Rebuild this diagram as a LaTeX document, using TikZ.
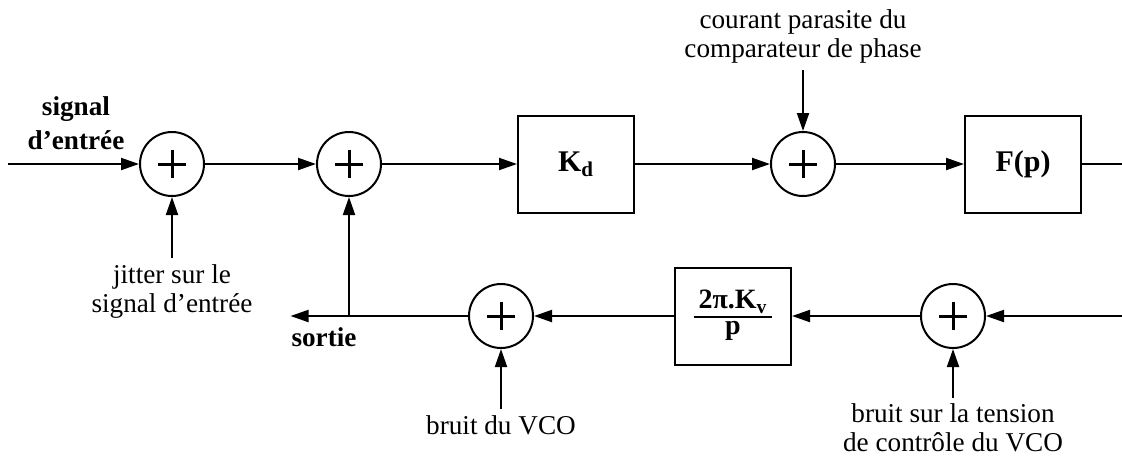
\documentclass[tikz,border=0pt]{standalone}
\usepackage{fontspec}
\setmainfont{Liberation Serif}
\usetikzlibrary{arrows.meta, positioning}

\newcommand{\vcogain}{{\fontsize{14pt}{15pt}\selectfont
  \setlength{\arrayrulewidth}{1pt}\renewcommand{\arraystretch}{0.8}%
  \begin{tabular}{@{\hspace{2.5pt}}c@{\hspace{2.5pt}}}2π.K\textsubscript{v}\\\hline p\end{tabular}}}

\begin{document}
\fontsize{13.6pt}{14.5pt}\selectfont
\begin{tikzpicture}[
  >={Triangle[length=9pt,width=6pt]},
  line width=1pt,
  sum/.style={circle, draw, minimum size=32pt, inner sep=0pt,
    path picture={\draw[line width=1.5pt]
      ([xshift=-7pt]path picture bounding box.center) -- ([xshift=7pt]path picture bounding box.center)
      ([yshift=-7pt]path picture bounding box.center) -- ([yshift=7pt]path picture bounding box.center);}},
  block/.style={draw, minimum width=58pt, minimum height=48.5pt, inner sep=0pt,
    font=\fontsize{15pt}{16pt}\selectfont\bfseries},
  lbl/.style={align=center, inner sep=3pt},
  lblb/.style={lbl, font=\bfseries}
]
\useasboundingbox (0,0) rectangle (561pt,-228.5pt);

% forward path
\node[sum] (sum1) at (86pt,-82pt) {};
\node[sum] (sum2) [right=55.5pt of sum1] {};
\node[block] (kd) [right=67.5pt of sum2] {K\textsubscript{d}};
\node[sum] (sum3) [right=67.5pt of kd] {};
\node[block] (fp) [right=64pt of sum3] {F(p)};
\coordinate (in) at (4pt,-82pt);
\coordinate[right=26pt of fp] (fpout);

% return path
\node[sum] (sum5) at (476.5pt,-158pt) {};
\node[block] (kv) [left=64pt of sum5] {\vcogain};
\node[sum] (sum4) [left=70pt of kv] {};
\coordinate[right=68.5pt of sum5] (vin);
\coordinate (fb) at (sum2 |- sum4);
\coordinate[left=29.25pt of fb] (out);

% labels
\node[lblb, anchor=south] (sigin) at (38pt,-78.5pt) {signal\\[2.5pt]d’entrée};
\node[lblb, below right=5.5pt and 0pt of out, inner sep=0pt] (outlbl) {sortie};
\node[lbl, below=30.5pt of sum1] (jitter) {jitter sur le\\signal d’entrée};
\node[lbl, above=30.5pt of sum3] (cpnoise) {courant parasite du\\comparateur de phase};
\node[lbl, below=30pt of sum4] (vconoise) {bruit du VCO};
\node[lbl, below=24.5pt of sum5, inner sep=2.5pt] (ctlnoise) {bruit sur la tension\\de contrôle du VCO};

\draw[->] (in) -- (sum1);
\draw[->] (sum1) -- (sum2);
\draw[->] (sum2) -- (kd);
\draw[->] (kd) -- (sum3);
\draw[->] (sum3) -- (fp);
\draw (fp) -- (fpout);
\draw[->] (vin) -- (sum5);
\draw[->] (sum5) -- (kv);
\draw[->] (kv) -- (sum4);
\draw[->] (sum4) -- (out);
\draw[->] (fb) -- (sum2);
\draw[->] (jitter) -- (sum1);
\draw[->] (cpnoise) -- (sum3);
\draw[->] (vconoise) -- (sum4);
\draw[->] (ctlnoise) -- (sum5);
\end{tikzpicture}
\end{document}
